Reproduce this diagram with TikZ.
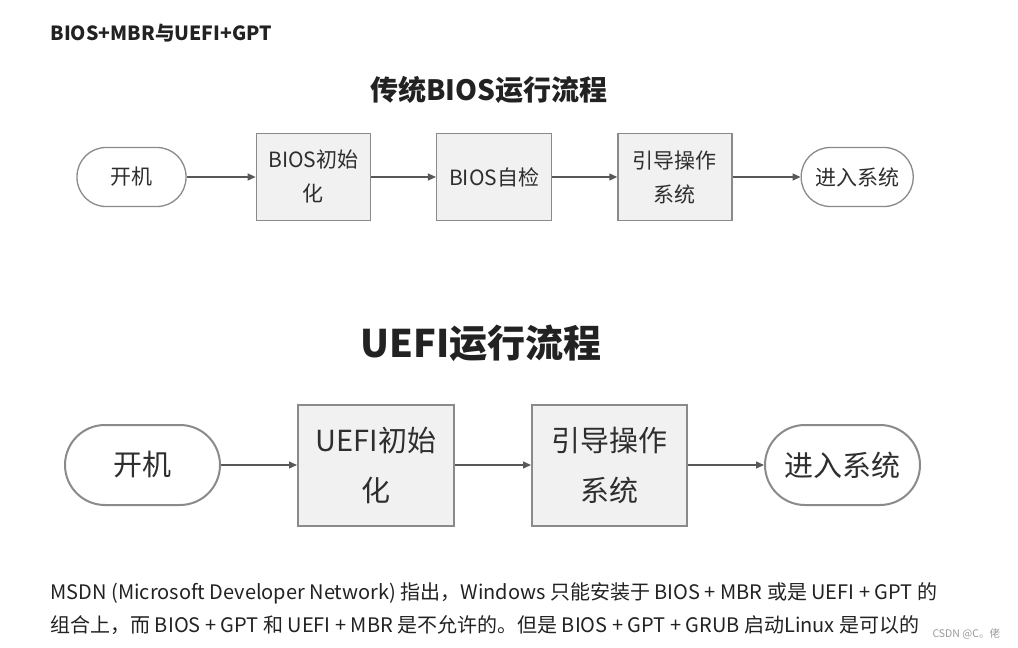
\documentclass[tikz,border=0pt]{standalone}
\usepackage{fontspec}
\setmainfont{Noto Sans CJK SC}
\usetikzlibrary{positioning,arrows.meta}
\definecolor{boxline}{HTML}{8A8A8A}
\definecolor{boxfill}{HTML}{F1F1F1}
\definecolor{inktext}{HTML}{2E2E2E}
\definecolor{pagetext}{HTML}{222222}
\tikzset{node distance=66pt, auto}

\begin{document}
\begin{tikzpicture}[
  x=1pt, y=-1pt,
  procbox/.style={draw=boxline, fill=boxfill, line width=1.3pt, align=center,
    inner sep=0pt, text=inktext},
  endbox/.style={draw=boxline, fill=white, line width=1.3pt, inner sep=0pt,
    text=inktext},
  flow/.style={-{Triangle[length=8pt,width=7pt]}, line width=1.3pt, draw=inktext!80}
]
\useasboundingbox (0,0) rectangle (1018,648);

% page heading
\node[anchor=west, text=pagetext, font=\bfseries\fontsize{19.5}{23}\selectfont] (heading) at (47,33) {BIOS+MBR与UEFI+GPT};

% legacy BIOS flow
\node[text=pagetext, font=\bfseries\fontsize{28}{34}\selectfont] (biostitle) at (489,90) {传统BIOS运行流程};
\begin{scope}[font=\fontsize{21}{34}\selectfont,
  every node/.append style={minimum height=87pt}]
  \node[endbox, minimum width=109pt, minimum height=59pt, rounded corners=29pt] (bpower) at (131.5,177) {开机};
  \node[procbox, minimum width=114pt, right=69pt of bpower] (binit) {BIOS初始\\化};
  \node[procbox, minimum width=115pt, right=65pt of binit] (bpost) {BIOS自检};
  \node[procbox, minimum width=114pt, right=65pt of bpost] (bboot) {引导操作\\系统};
  \node[endbox, minimum width=112pt, minimum height=59pt, rounded corners=29pt, right=68pt of bboot] (benter) {进入系统};
\end{scope}
\draw[flow] (bpower) -- (binit);
\draw[flow] (binit) -- (bpost);
\draw[flow] (bpost) -- (bboot);
\draw[flow] (bboot) -- (benter);

% UEFI flow
\node[text=pagetext, font=\bfseries\fontsize{38}{44}\selectfont] (uefititle) at (481,343) {UEFI运行流程};
\begin{scope}[font=\fontsize{29}{50}\selectfont, node distance=76pt,
  every node/.append style={minimum height=121pt}]
  \node[endbox, minimum width=155pt, minimum height=80pt, rounded corners=40pt, line width=2pt] (upower) at (142.5,465) {开机};
  \node[procbox, minimum width=156pt, line width=2pt, right=of upower] (uinit) {UEFI初始\\化};
  \node[procbox, minimum width=155pt, line width=2pt, right=of uinit] (uboot) {引导操作\\系统};
  \node[endbox, minimum width=155pt, minimum height=80pt, rounded corners=40pt, line width=2pt, right=of uboot] (uenter) {进入系统};
\end{scope}
\draw[flow] (upower) -- (uinit);
\draw[flow] (uinit) -- (uboot);
\draw[flow] (uboot) -- (uenter);

% remark below the figure
\node[anchor=west, text=pagetext, font=\fontsize{20}{24}\selectfont] (noteone) at (47,593)
  {MSDN (Microsoft Developer Network) 指出，Windows 只能安装于 BIOS + MBR 或是 UEFI + GPT 的};
\node[anchor=west, text=pagetext, font=\fontsize{20}{24}\selectfont] (notetwo) at (47,625)
  {组合上，而 BIOS + GPT 和 UEFI + MBR 是不允许的。但是 BIOS + GPT + GRUB 启动Linux 是可以的};
\node[anchor=west, text=black!40, font=\fontsize{10.5}{12}\selectfont] (mark) at (929,634) {CSDN @C。佬};
\end{tikzpicture}
\end{document}
